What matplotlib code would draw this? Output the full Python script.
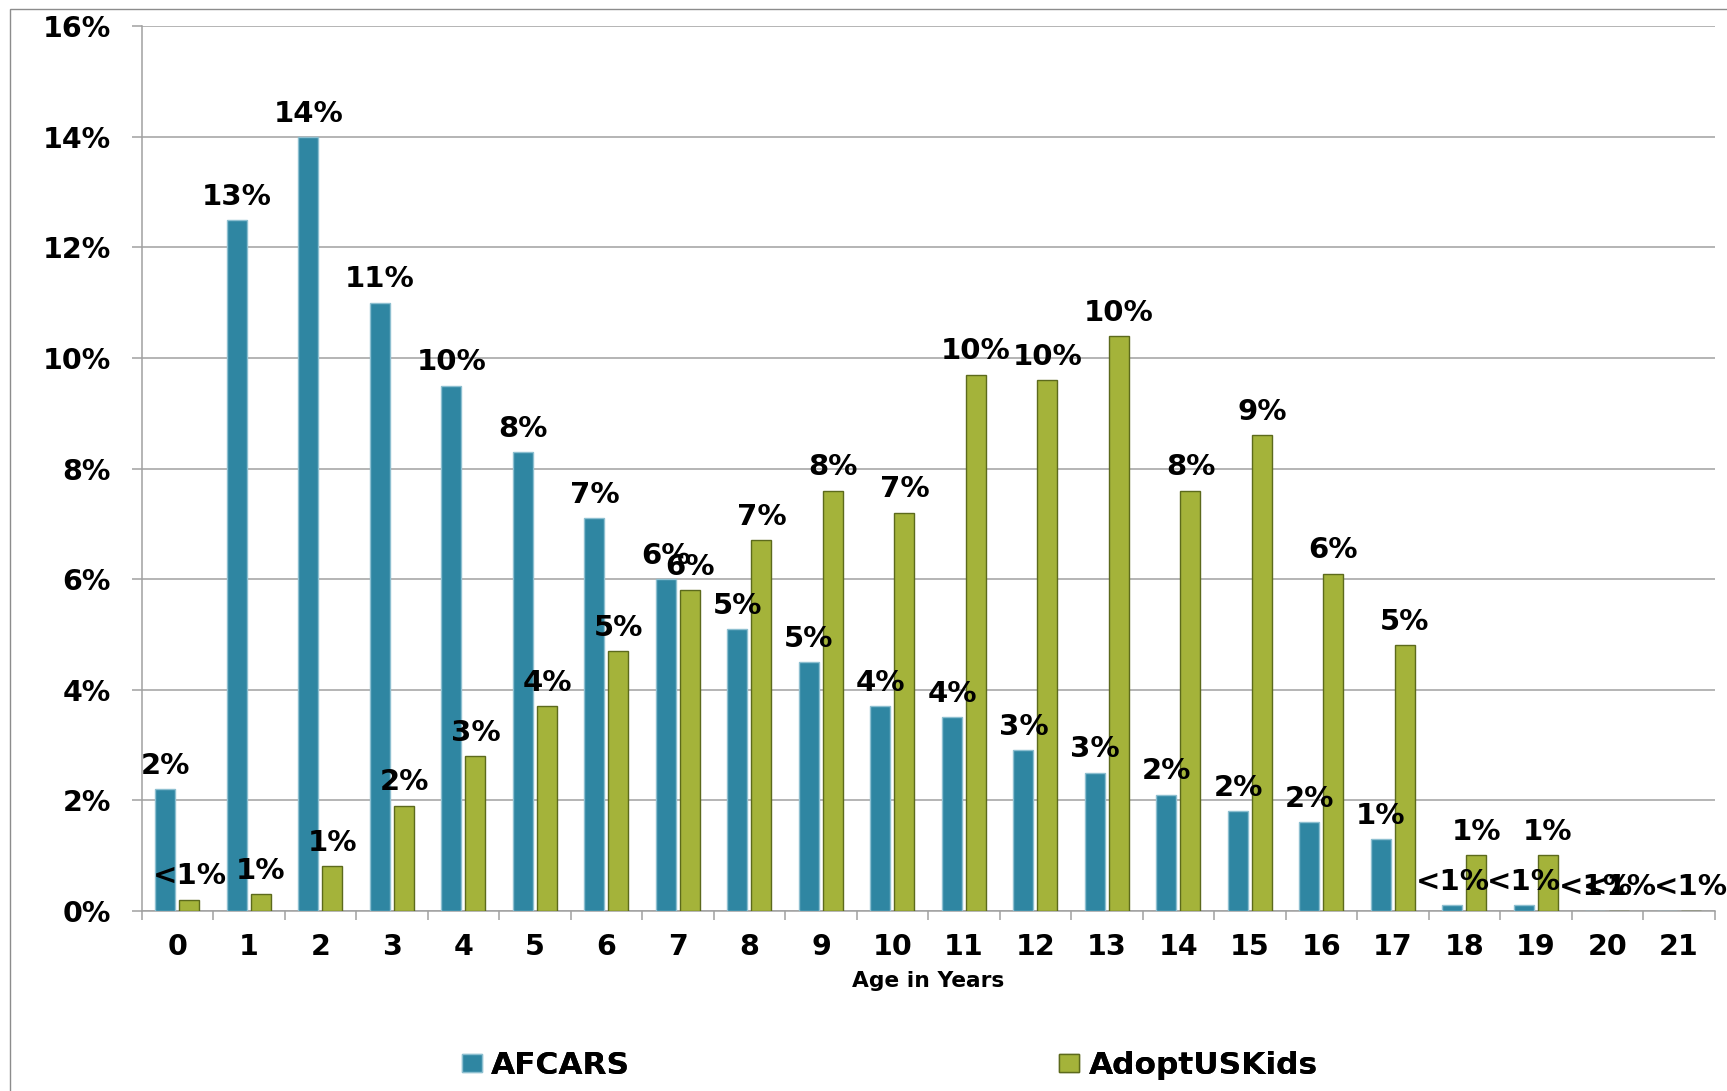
import matplotlib
matplotlib.use('Agg')
import matplotlib.pyplot as plt
from matplotlib.patches import Patch, Rectangle
from matplotlib.ticker import FixedLocator, FuncFormatter
import numpy as np

# ---- data ----
ages = [str(i) for i in range(22)]
afcars = [2.2, 12.5, 14.0, 11.0, 9.5, 8.3, 7.1, 6.0, 5.1, 4.5, 3.7, 3.5,
          2.9, 2.5, 2.1, 1.8, 1.6, 1.3, 0.1, 0.1, 0.0, 0.0]
adopt = [0.2, 0.3, 0.8, 1.9, 2.8, 3.7, 4.7, 5.8, 6.7, 7.6, 7.2, 9.7,
         9.6, 10.4, 7.6, 8.6, 6.1, 4.8, 1.0, 1.0, 0.0, 0.0]
afcars_labels = ['2%', '13%', '14%', '11%', '10%', '8%', '7%', '6%', '5%', '5%', '4%', '4%',
                 '3%', '3%', '2%', '2%', '2%', '1%', '<1%', '<1%', '<1%', '']
adopt_labels = ['<1%', '1%', '1%', '2%', '3%', '4%', '5%', '6%', '7%', '8%', '7%', '10%',
                '10%', '10%', '8%', '9%', '6%', '5%', '1%', '1%', '<1%', '<1%']
y_ticks = [0, 2, 4, 6, 8, 10, 12, 14, 16]
series_names = ['AFCARS', 'AdoptUSKids']

# ---- style ----
blue = '#2F86A2'
blue_edge = '#8DBFD0'
green = '#A4B33A'
green_edge = '#5C6A1C'
grid_c = '#A0A0A0'
plt.rcParams['font.family'] = ['DejaVu Sans']
plt.rcParams['font.weight'] = 'bold'

W, H = 1727, 1091
fig = plt.figure(figsize=(W / 100, H / 100), dpi=100)
ax = fig.add_axes([141.7 / W, 1 - 910.7 / H, (1714.7 - 141.7) / W, (910.7 - 26.4) / H])

x = np.arange(len(ages))
off = 0.168
bw = 0.28
ax.bar(x - off, afcars, bw, color=blue, edgecolor=blue_edge, linewidth=1.0, zorder=3)
ax.bar(x + off, adopt, bw, color=green, edgecolor=green_edge, linewidth=1.0, zorder=3)

for xi, v, t in zip(x, afcars, afcars_labels):
    if t:
        ax.annotate(t, (xi - off, v), xytext=(0, 11), textcoords='offset points',
                    ha='center', va='baseline', fontsize=21, fontweight='bold', zorder=5)
for xi, v, t in zip(x, adopt, adopt_labels):
    if t:
        ax.annotate(t, (xi + off, v), xytext=(0, 11), textcoords='offset points',
                    ha='center', va='baseline', fontsize=21, fontweight='bold', zorder=5)

ax.set_xlim(-0.5, len(ages) - 0.5)
ax.set_ylim(0, 16)
ax.set_yticks(y_ticks)
ax.yaxis.set_major_formatter(FuncFormatter(lambda v, p: f'{int(v)}%'))
ax.set_xticks(x)
ax.set_xticklabels(ages)
ax.xaxis.set_minor_locator(FixedLocator(np.arange(-0.5, len(ages), 1.0)))

ax.tick_params(axis='x', which='major', length=0, pad=16, labelsize=20.5)
ax.tick_params(axis='x', which='minor', length=6.5, width=1.1, color=grid_c, direction='out')
ax.tick_params(axis='y', which='major', length=7.2, width=1.1, color=grid_c, pad=15, labelsize=20.5)
for lab in ax.get_xticklabels() + ax.get_yticklabels():
    lab.set_fontweight('bold')

ax.grid(axis='y', color=grid_c, linewidth=1.1, zorder=0)
ax.set_axisbelow(True)
for s in ['top', 'right']:
    ax.spines[s].set_visible(False)
for s in ['left', 'bottom']:
    ax.spines[s].set_color(grid_c)
    ax.spines[s].set_linewidth(1.1)

ax.set_xlabel('Age in Years', fontsize=15.7, fontweight='bold', labelpad=7)

# legend entries
handles = [Patch(facecolor=blue, edgecolor=blue_edge), Patch(facecolor=green, edgecolor=green_edge)]
anchors = [(461.7 / W, 1 - 1065.5 / H), (1059 / W, 1 - 1065.5 / H)]
for h, name, anc in zip(handles, series_names, anchors):
    leg = fig.legend([h], [name], loc='center left', bbox_to_anchor=anc, frameon=False,
                     borderpad=0, borderaxespad=0, handlelength=0.64, handleheight=0.55,
                     handletextpad=0.3, prop={'size': 22.5, 'weight': 'bold'})
    fig.add_artist(leg)

# outer chart border
fig.patches.append(Rectangle((10 / W, -0.02), 1.05, 1 - 9 / H + 0.02, transform=fig.transFigure,
                             fill=False, edgecolor='#8C8C8C', linewidth=1.0))

fig.savefig('out.png', dpi=100)
